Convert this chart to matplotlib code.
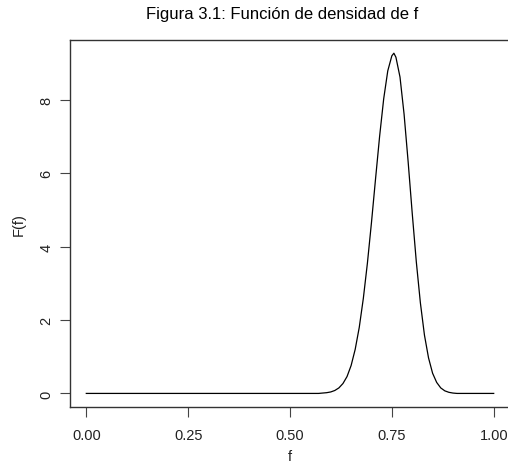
import numpy as np
import matplotlib
matplotlib.use("Agg")
import matplotlib.pyplot as plt

plt.rcParams['font.family'] = ['Liberation Sans', 'DejaVu Sans']

f_grid = np.round(np.arange(0, 101) * 0.01, 3)
dens_nonzero = {
    0.58: 0.01, 0.59: 0.02, 0.60: 0.04, 0.61: 0.08, 0.62: 0.15,
    0.63: 0.27, 0.64: 0.46, 0.65: 0.76, 0.66: 1.20, 0.67: 1.80,
    0.68: 2.59, 0.69: 3.55, 0.70: 4.66, 0.71: 5.85, 0.72: 7.01,
    0.73: 8.03, 0.74: 8.79, 0.75: 9.20, 0.755: 9.27, 0.76: 9.16,
    0.77: 8.62, 0.78: 7.61, 0.79: 6.31, 0.80: 4.91, 0.81: 3.59,
    0.82: 2.47, 0.83: 1.59, 0.84: 0.97, 0.85: 0.55, 0.86: 0.30,
    0.87: 0.15, 0.88: 0.07, 0.89: 0.03, 0.90: 0.01,
}
f_vals = np.array(sorted(set(f_grid) | set(dens_nonzero)))
dens = [dens_nonzero.get(v, 0.0) for v in f_vals]

x_ticks = [0.0, 0.25, 0.5, 0.75, 1.0]
x_labels = ["0.00", "0.25", "0.50", "0.75", "1.00"]
y_ticks = [0, 2, 4, 6, 8]

txt_col = '#222222'

fig = plt.figure(figsize=(5.08, 4.64), dpi=100)
ax = fig.add_axes([70 / 508, 56 / 464, 440 / 508, 367 / 464])

ax.plot(f_vals, dens, color='black', lw=0.9)

ax.set_xlim(-0.04, 1.04)
ax.set_ylim(-0.37, 9.63)
ax.set_xticks(x_ticks)
ax.set_xticklabels(x_labels)
ax.set_yticks(y_ticks)
ax.set_yticklabels([str(t) for t in y_ticks], rotation=90, va='center')

ax.tick_params(direction='out', length=7, width=0.8, colors='#444444',
               labelsize=10.5, labelcolor=txt_col)
ax.tick_params(axis='x', pad=8)
ax.tick_params(axis='y', pad=5)
for s in ax.spines.values():
    s.set_color('#333333')
    s.set_linewidth(1.0)

ax.set_xlabel('f', fontsize=10.5, color=txt_col, labelpad=5)
ax.set_ylabel('F(f)', fontsize=10.5, color=txt_col, labelpad=10)
fig.text(282 / 508, 1 - 15 / 464, 'Figura 3.1: Función de densidad de f',
         ha='center', va='center', fontsize=12, color='black')

fig.savefig('out.png', dpi=100)
